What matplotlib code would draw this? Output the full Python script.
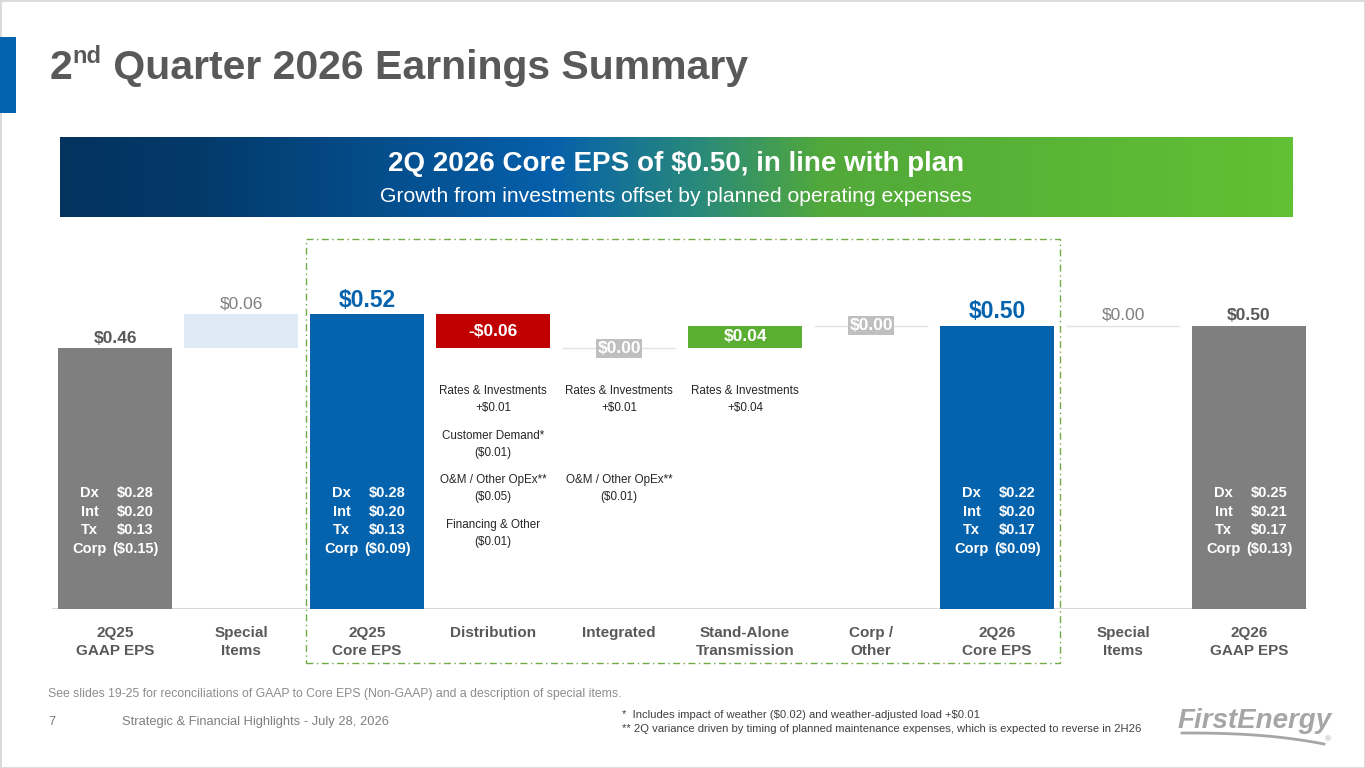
import matplotlib
matplotlib.use("Agg")
import matplotlib.pyplot as plt
import numpy as np
from matplotlib.patches import Rectangle
from matplotlib.lines import Line2D
from matplotlib.colors import LinearSegmentedColormap
from matplotlib import font_manager

# ---- data ----
categories = ["2Q25\nGAAP EPS", "Special\nItems", "2Q25\nCore EPS", "Distribution",
              "Integrated", "Stand-Alone\nTransmission", "Corp /\nOther",
              "2Q26\nCore EPS", "Special\nItems", "2Q26\nGAAP EPS"]
kinds = ["total", "delta", "total", "delta", "delta", "delta", "delta", "total", "delta", "total"]
values = [0.46, 0.06, 0.52, -0.06, 0.00, 0.04, 0.00, 0.50, 0.00, 0.50]

seg_names = ["Dx", "Int", "Tx", "Corp"]
seg_2q25_gaap = [0.28, 0.20, 0.13, -0.15]
seg_2q25_core = [0.28, 0.20, 0.13, -0.09]
seg_2q26_core = [0.22, 0.20, 0.17, -0.09]
seg_2q26_gaap = [0.25, 0.21, 0.17, -0.13]

drivers_dist = ["Rates & Investments\n+$0.01", "Customer Demand*\n($0.01)",
                "O&M / Other OpEx**\n($0.05)", "Financing & Other\n($0.01)"]
drivers_integ = ["Rates & Investments\n+$0.01", "", "O&M / Other OpEx**\n($0.01)"]
drivers_tx = ["Rates & Investments\n+$0.04"]

W, H = 1365, 768
GREY_T = "#595959"
BLUE = "#0563ae"

plt.rcParams['font.family'] = ['Liberation Sans', 'DejaVu Sans']
names = {f.name for f in font_manager.fontManager.ttflist}
NARROW = 'Liberation Sans Narrow' if 'Liberation Sans Narrow' in names else 'Liberation Sans'
nscale = 1.0 if NARROW == 'Liberation Sans Narrow' else 0.82


def fx(px):
    return px / W


def fy(py):
    return 1 - py / H


def money(v):
    if v < 0:
        return "($%.2f)" % abs(v)
    return "$%.2f" % v


fig = plt.figure(figsize=(13.65, 7.68), dpi=100)
fig.patch.set_facecolor("white")
r = fig.canvas.get_renderer()

# slide frame and accent
fig.add_artist(Rectangle((0, 0), 1, 1, fill=False, ec="#d9d9d9", lw=2, transform=fig.transFigure))
fig.add_artist(Rectangle((0, fy(113)), fx(16), 76 / H, fc=BLUE, ec="none", transform=fig.transFigure))

# title with superscript
t1 = fig.text(fx(50), fy(79), "2", fontsize=29.5, weight="bold", color=GREY_T, va="baseline")
bb = t1.get_window_extent(r)
t2 = fig.text(bb.x1 / W, fy(63), "nd", fontsize=17, weight="bold", color=GREY_T, va="baseline")
bb = t2.get_window_extent(r)
fig.text(bb.x1 / W, fy(79), " Quarter 2026 Earnings Summary", fontsize=29.5, weight="bold",
         color=GREY_T, va="baseline")

# gradient banner
axb = fig.add_axes([fx(60), fy(217), (1293 - 60) / W, 80 / H])
cmap = LinearSegmentedColormap.from_list("band", [(0, "#04335f"), (0.11, "#033a6a"), (0.40, "#0660ab"),
                                                  (0.52, "#2a8a7a"), (0.62, "#52a93a"), (1, "#62c033")])
axb.imshow(np.linspace(0, 1, 600).reshape(1, -1), cmap=cmap, aspect="auto", extent=[0, 1, 0, 1])
axb.set_axis_off()
fig.text(fx(676), fy(164), "2Q 2026 Core EPS of $0.50, in line with plan",
         fontsize=20, weight="bold", color="white", ha="center", va="center")
fig.text(fx(676), fy(196), "Growth from investments offset by planned operating expenses",
         fontsize=15.2, color="white", ha="center", va="center")

# waterfall
ax = fig.add_axes([fx(52), fy(609), 1260 / W, 0.58 * 566.7 / H])
x = np.arange(len(values))
bottoms, heights, levels = [], [], []
run = 0.0
for k, v in zip(kinds, values):
    if k == "total":
        bottoms.append(0.0)
        run = v
    else:
        bottoms.append(run)
        run = run + v
    heights.append(v)
    levels.append(run)

colors = []
for i, (k, v) in enumerate(zip(kinds, values)):
    if k == "total":
        colors.append(BLUE if "Core" in categories[i] else "#7f7f7f")
    elif i == 1:
        colors.append("#deebf7")
    elif v < 0:
        colors.append("#c00000")
    else:
        colors.append("#5aae32")

ax.bar(x, heights, bottom=bottoms, width=0.9, color=colors, zorder=2)
ax.plot([-0.5, 9.45], [0, 0], color="#d9d9d9", lw=1.5, zorder=1)

for i, (k, v) in enumerate(zip(kinds, values)):
    top = max(bottoms[i], bottoms[i] + heights[i])
    if k == "delta" and v == 0:
        ax.hlines(levels[i], i - 0.45, i + 0.45, color="#e3e3e3", lw=1, zorder=1)
    if k == "total":
        is_core = "Core" in categories[i]
        ax.annotate(money(v), (i, top), xytext=(0, 2), textcoords="offset points", ha="center",
                    va="bottom", fontsize=16.5 if is_core else 12.5, weight="bold",
                    color=BLUE if is_core else GREY_T)
    elif i in (1, 8):
        ax.annotate(money(v), (i, top), xytext=(0, 2), textcoords="offset points", ha="center",
                    va="bottom", fontsize=12.5, color="#7f7f7f")
    elif v == 0:
        ax.text(i, levels[i], money(v), ha="center", va="center", fontsize=12.5, weight="bold",
                color="white", zorder=3,
                bbox=dict(boxstyle="square,pad=0.1", fc="#bfbfbf", ec="none"))
    else:
        txt = ("-$%.2f" % abs(v)) if v < 0 else money(v)
        ax.text(i, bottoms[i] + heights[i] / 2, txt, ha="center", va="center", fontsize=12.5,
                weight="bold", color="white", zorder=3)

# segment breakdown inside the total bars
for i, segs in zip([0, 2, 7, 9], [seg_2q25_gaap, seg_2q25_core, seg_2q26_core, seg_2q26_gaap]):
    for j, (nm, sv) in enumerate(zip(seg_names, segs)):
        yy = 0.205 - 0.033 * j
        ax.text(i - 0.2, yy, nm, ha="center", va="center", fontsize=10.5, weight="bold",
                color="white", zorder=3)
        ax.text(i + 0.16, yy, money(sv), ha="center", va="center", fontsize=10.5, weight="bold",
                color="white", zorder=3)

# driver notes under the segment bars
row_y = [0.3697, 0.2903, 0.2126, 0.1332]
for i, drv in zip([3, 4, 5], [drivers_dist, drivers_integ, drivers_tx]):
    for j, txt in enumerate(drv):
        if txt:
            ax.text(i, row_y[j], txt, ha="center", va="center", fontsize=10.2 * nscale,
                    family=NARROW, color="#262626", linespacing=1.55)

ax.set_xlim(-0.5, 9.5)
ax.set_ylim(0, 0.58)
ax.set_xticks(x)
ax.set_xticklabels(categories, fontsize=11, weight="bold", color=GREY_T, linespacing=1.4)
ax.tick_params(axis="x", length=0, pad=12)
ax.set_yticks([])
for s in ax.spines.values():
    s.set_visible(False)
ax.patch.set_alpha(0)

# dashed frame around the core walk
fig.add_artist(Rectangle((fx(306), fy(663)), (1060 - 306) / W, (663 - 239) / H, fill=False,
                         ec="#70ad47", ls=(0, (5, 2.5, 1, 2.5)), lw=1, transform=fig.transFigure))

# footer
fig.text(fx(48), fy(694), "See slides 19-25 for reconciliations of GAAP to Core EPS (Non-GAAP) and a description of special items.",
         fontsize=8.8 * nscale / 0.82, family=NARROW, color="#8c8c8c", va="center")
fig.text(fx(48), fy(722), "7", fontsize=9.3 * nscale / 0.82, family=NARROW, color="#7f7f7f", va="center")
fig.text(fx(122), fy(722), "Strategic & Financial Highlights - July 28, 2026",
         fontsize=9.3 * nscale / 0.82, family=NARROW, color="#7f7f7f", va="center")
fig.text(fx(622), fy(715), r"*  Includes impact of weather (\$0.02) and weather-adjusted load +\$0.01",
         fontsize=8.1 * nscale / 0.82, family=NARROW, color="#404040", va="center")
fig.text(fx(622), fy(729), "** 2Q variance driven by timing of planned maintenance expenses, which is expected to reverse in 2H26",
         fontsize=8.1 * nscale / 0.82, family=NARROW, color="#404040", va="center")

# logo
fig.text(fx(1255), fy(721), "FirstEnergy", fontsize=20, weight="bold", style="italic",
         color="#a6a6a6", ha="center", va="center")
tt = np.linspace(0, 1, 60)
fig.add_artist(Line2D(fx(1182 + 142 * tt), fy(733 + 11 * tt ** 2.5), color="#a6a6a6", lw=2,
                      transform=fig.transFigure))
fig.text(fx(1328), fy(740), "®", fontsize=6, color="#a6a6a6", ha="center", va="center")

fig.savefig("out.png", dpi=100, facecolor="white")
